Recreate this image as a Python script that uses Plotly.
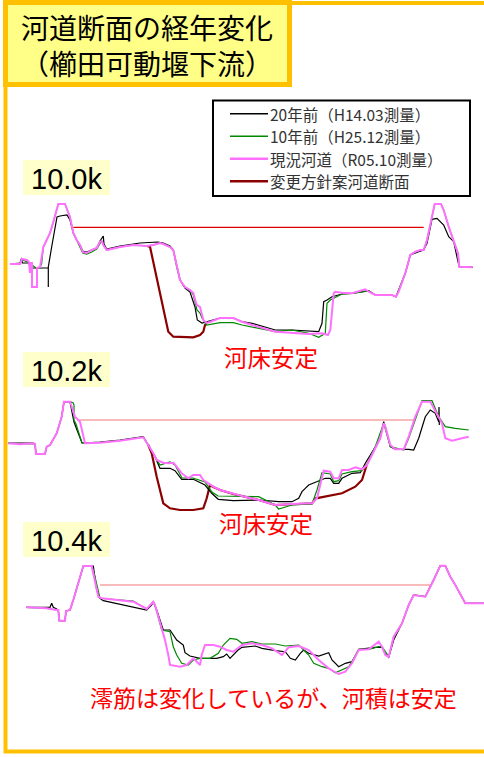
import plotly.graph_objects as go

# ---------------- data (distance, level) ----------------
# Section 10.0k
S100_OLD20 = [(10,264),(20,263),(21.7,258),(22.3,263),(29,263),(30,268),(48.3,268),(48.3,287),(48.3,267),(52,245),(55,228),(57,217),(60,216),(67,215),(70,220),(72,228),(73.3,233),(76.7,240),(80,245),(82.7,251),(86.7,252),(91.7,250),(96.7,248),(100,241),(103.3,236),(104,244),(106.7,249),(120,246),(140,243),(158,242),(163.3,243),(170,246),(173.3,250),(176.7,265),(180,280),(185,288),(190,292),(195,307),(197.3,320),(202,323),(210,321),(220,318),(233.3,318),(242,321.7),(252,323.3),(275.3,330),(292,330),(313.7,331.7),(318.7,331.7),(322,323.3),(323.7,301.7),(327,300),(332,296.7),(342,294),(352,293.3),(368.7,290.7),(375.3,295),(392,295),(396,296.7),(405.3,273.3),(410.3,255),(418.7,251.7),(423.7,250),(427,243.3),(432,219.3),(437,218.3),(443.7,225),(448.7,236.7),(453.7,241.7),(458,261.7),(459.3,266.7),(472.7,267.3)]
S100_OLD10 = [(10,264),(20,264),(22,260),(28,262),(36,268),(40,268),(41.7,263),(43.3,247),(46.7,240),(50,233),(53.3,222),(56.7,210),(58.3,204),(65,204),(66.7,208),(70,217),(73.3,233),(76.7,240),(80,246),(82.7,253),(86.7,254),(91.7,252),(96.7,249),(100,243),(101.7,241),(103.3,245),(106.7,250),(120,247),(133.3,245),(146.7,246),(153.3,245),(160,243),(163.3,244),(170,247),(173.3,250),(176.7,267),(180,280),(185,287),(190,290),(193.3,295),(197,310),(200,313),(202,318),(206.7,325),(220,322.7),(233.3,322.7),(242,325),(275.3,331.7),(292,330),(308.7,333.3),(318.7,337.3),(325.3,333.3),(327,303.3),(330.3,300),(342,294),(352,293.3),(368.7,291),(375.3,295),(392,295),(396,296.7),(405.3,273.3),(410.3,255),(415.3,251.7),(420.3,250),(423.7,250),(427,240),(432,216.7),(434.7,204),(441,204),(443.7,210),(448.7,226.7),(453.7,240),(458,253.3),(459.3,266.7),(472.7,267.3)]
S100_NOW = [(10,264),(20,264),(22,259),(27,260),(29,262),(30,273),(31,263),(32,263),(32,287),(37,287),(37,268),(40,267),(41.7,257),(43.3,247),(46.7,240),(50,233),(53.3,222),(56.7,210),(58.3,204),(65,204),(66.7,208),(70,217),(73.3,233),(76.7,240),(80,245),(82.7,252),(86.7,253),(91.7,250),(96.7,248),(100,242),(101.7,241),(103.3,245),(106.7,250),(120,247),(133.3,245),(146.7,246),(153.3,245),(160,243),(163.3,244),(170,247),(173.3,250),(176.7,267),(180,280),(185,287),(190,290),(193.3,293),(196.7,305),(200,307),(201.7,313),(203.3,320),(206.7,323),(210,322),(220,318),(233.3,318),(242,321.7),(252,325),(275.3,331.7),(292,332.7),(308.7,334),(322,333.3),(328,335),(330.3,330),(333.7,293.3),(335.3,291.7),(342,292.7),(352,293.3),(357,291.7),(365.3,289.3),(368.7,291.7),(375.3,295),(392,295),(396,296.7),(398.7,291.7),(405.3,273.3),(410.3,255),(415.3,251.7),(420.3,250),(423.7,250),(427,240),(432,216.7),(434.7,204),(441,204),(443.7,210),(448.7,226.7),(453.7,240),(458,253.3),(459.3,266.7),(472.7,267.3)]
S100_PLAN = [(146.7,246),(150,246.7),(168.3,331.7),(173.3,336.7),(193.3,337.3),(200,335),(203.3,331.7),(205,325),(206.7,323)]
S100_HWL = [(73.3,227.3),(423.7,227.3)]

# Section 10.2k
S102_OLD20 = [(8.3,443),(33.3,443),(35,444),(36,454),(45,454),(46.7,446.7),(50,445),(56.7,433.3),(61.7,416.7),(64,402),(70,402),(74,422),(77,430),(82,443),(100,442),(120,440),(143.3,436.7),(148.3,445),(155,456.7),(160,468.3),(170,468.3),(175,470.7),(181.7,479.3),(193.3,479.3),(205,485),(211.7,493.3),(218.3,499.3),(233.3,500.7),(242,500.7),(258.7,500),(278.7,501.7),(292,501.7),(298.7,498.3),(302,491.7),(305.3,488.3),(308.7,485),(325.3,478.3),(330.3,478.3),(333.7,483.3),(338.7,483.3),(342,478.3),(352,473.3),(360.3,472.7),(365.3,463.3),(375.3,446.7),(380.3,438.3),(383.7,421.7),(385.3,426.7),(390.3,446.7),(395.3,449.3),(408.7,449.3),(413.7,450),(418.7,438.3),(425.3,416.7),(430.3,410),(435.3,413.3),(438.7,421.7),(439,407),(439.3,425)]
S102_OLD10 = [(8.3,443.3),(33.3,443.3),(35,444),(36,454),(45,454),(46.7,446.7),(50,445),(56.7,433.3),(61.7,416.7),(64,401.7),(70,401.7),(73.3,403),(74,405),(74,420),(76,424),(82,443),(100,442.5),(120,440.5),(143.3,437),(148.3,445),(156,458),(160,465),(170,462),(175,465),(182,478),(193,478),(205,482),(212,492),(218,496),(233,496),(242,496),(258.7,496.7),(275.3,505),(278.7,509),(292,505),(312,504),(317,490),(322,472.7),(330.3,474),(333.7,481.7),(338.7,480.7),(342,474),(352,471.7),(362,470.7),(367,464),(375.3,446.7),(383.7,423.3),(390.3,446.7),(403.7,450),(408.7,438.3),(422,400.7),(432,400.7),(438.7,416.7),(445.3,426.7),(455.3,428.3),(468.7,430)]
S102_NOW = [(8.3,443.3),(20,444.3),(33.3,443.3),(35,444),(36,454),(45,454),(46.7,446.7),(50,445),(56.7,433.3),(61.7,416.7),(64,401.7),(70,401.7),(71.7,406.7),(75,416.7),(80,421.7),(85,443.3),(100,442.7),(120,440.7),(143.3,437.3),(148.3,445),(153.3,453.3),(156.7,460),(163.3,462.7),(168.3,463.3),(173.3,462.7),(176.7,466.7),(181.7,473.3),(188.3,478.3),(193.3,475),(200,475),(203.3,480),(208.3,483.3),(213.3,486.7),(220,490),(233.3,494),(242,496),(258.7,500),(275.3,505),(292,504),(312,503.3),(317,498.3),(323.7,470.7),(330.3,471.7),(333.7,478.3),(338.7,478.3),(342,470),(348.7,470),(355.3,467.3),(362,469.3),(367,465),(375.3,448.3),(380.3,438.3),(383.7,423.3),(385.3,426.7),(390.3,445),(395.3,449.3),(403.7,449.3),(408.7,436.7),(415.3,416.7),(422,401.7),(430.3,401.7),(438.7,418.3),(442,423.3),(445.3,438.3),(452,440.7),(462,438.3),(468.7,436.7)]
S102_PLAN = [(148.3,445),(151.7,453.3),(156.7,476.7),(163.3,503.3),(170,508.3),(180,510),(193.3,510),(203.3,508.3),(206.7,498.3),(210,485),(213.3,487),(220,490),(233.3,494),(242,496),(258.7,500),(275.3,505),(292,504),(312,503.3),(316,498.3),(325.3,496.7),(342,493.3),(355.3,486.7),(362,480),(367,464)]
S102_HWL = [(78.3,420),(415.3,420)]

# Section 10.4k
S104_OLD20 = [(26,607.3),(46.7,607.3),(50,607.3),(51.7,603.3),(53.3,607.3),(56.7,609),(58.3,610),(59.3,620.7),(65,620.7),(66,611),(70,610),(73.3,600),(78.3,583.3),(83.3,566),(93.3,566),(96.7,590),(100,598.3),(103.3,600.7),(146.7,610),(151.7,605),(153.3,601.7),(156.7,610),(163.3,630),(170,630),(176.7,640),(183.3,645),(185,652.7),(190,656),(200,658.3),(216.7,658.3),(223.3,656.7),(226.7,654),(230,658.3),(233.3,655),(238,650),(242,647.3),(255.3,646),(262,648.3),(275.3,650.7),(285.3,651.7),(290.3,658.3),(295.3,660),(300.3,653.3),(303.7,650),(308.7,653.3),(318.7,656),(328.7,652.7),(332,660),(338.7,666.7),(345.3,663.3),(352,661.7),(358.7,649.3),(375.3,647.3),(382,647.3),(385.3,654),(388.7,657.3),(393.7,640),(402,623.3),(408.7,605),(413.7,595),(425.3,596.7),(433.7,580),(440.3,565.7),(445.3,565.7),(450.3,576.7),(455.3,585),(458.7,591.7),(465.3,603.3),(484,603.3)]
S104_OLD10 = [(26,607.3),(46.7,608.3),(56.7,610),(58.3,610),(59.3,620.7),(65,620.7),(66,611),(70,610),(73.3,600),(78.3,583.3),(83.3,566),(91.7,566),(95,576.7),(100,598.3),(133.3,601),(146.7,609),(150,605),(153.3,601.7),(155,605),(161.7,630),(170,631.7),(173.3,646.7),(176.7,655),(181.7,663.3),(188.3,665),(193.3,660),(200,658.3),(210,658.3),(218.3,653.3),(223.3,645),(230,638.3),(236.7,639.3),(242,643.3),(252,641.7),(262,644),(275.3,644),(285.3,646),(298.7,645),(308.7,655),(313.7,663.3),(322,666.7),(328.7,668.3),(335.3,672.7),(342,670),(348.7,666.7),(355.3,656),(358.7,649.3),(368.7,649.3),(378.7,646.7),(382,646.7),(388.7,656.7),(393.7,636.7),(402,623.3),(408.7,605),(413.7,595),(425.3,596.7),(433.7,580),(440.3,565.7),(445.3,565.7),(450.3,576.7),(455.3,585),(458.7,591.7),(465.3,603.3),(484,603.3)]
S104_NOW = [(26,607.3),(46.7,608.3),(56.7,610),(58.3,610),(59.3,620.7),(65,620.7),(66,611),(70,610),(73.3,600),(78.3,583.3),(83.3,566),(91.7,566),(95,580),(98.3,596.7),(101.7,598.3),(133.3,601.7),(146.7,609),(150,605),(153.3,601.7),(155,605),(158.3,616.7),(161.7,630),(165,640),(168.3,655),(170,665),(180,666.7),(186.7,665),(193.3,658.3),(200,665),(201.7,655),(205,645),(213.3,645),(220,646.7),(226.7,650),(233.3,651.7),(242,645),(252,643.3),(262,645),(272,648.3),(282,655),(288.7,647.3),(298.7,646),(308.7,650),(318.7,660),(328.7,668.3),(338.7,674),(345.3,671.7),(352,663.3),(358.7,650),(368.7,649.3),(375.3,644),(378.7,641.7),(382,646.7),(385.3,655),(388.7,656.7),(393.7,636.7),(402,623.3),(408.7,605),(413.7,595),(425.3,596.7),(433.7,580),(440.3,565.7),(445.3,565.7),(450.3,576.7),(455.3,585),(458.7,591.7),(465.3,603.3),(484,603.3)]
S104_HWL = [(100,585),(430.3,585)]

SERIES_NAMES = ["20年前（H14.03測量）", "10年前（H25.12測量）", "現況河道（R05.10測量）", "変更方針案河道断面"]
SECTION_LABELS = ["10.0k", "10.2k", "10.4k"]
NOTES = ["河床安定", "河床安定", "澪筋は変化しているが、河積は安定"]
TITLE_LINES = ["河道断面の経年変化", "（櫛田可動堰下流）"]

# ---------------- styles ----------------
C_OLD20, C_OLD10, C_NOW, C_PLAN = "#000000", "#008800", "#FF70FF", "#8B0000"
SERIES_COLORS = [C_OLD20, C_OLD10, C_NOW, C_PLAN]
SERIES_KEY_WIDTHS = [1.3, 1.3, 2.6, 2.6]
ORANGE = "#FFC000"
JP = "Noto Sans CJK JP"
LEGEND_FONT = 15.5
LEGEND_STEP = 22.5

fig = go.Figure()

def add(pts, color, width, name):
    xs = [p[0] for p in pts]
    ys = [p[1] for p in pts]
    fig.add_trace(go.Scatter(x=xs, y=ys, mode="lines", name=name, showlegend=False,
                             line=dict(color=color, width=width), hoverinfo="skip"))

sections = [
    (S100_OLD20, S100_OLD10, S100_NOW, S100_PLAN, S100_HWL, "#E00000"),
    (S102_OLD20, S102_OLD10, S102_NOW, S102_PLAN, S102_HWL, "#F07878"),
    (S104_OLD20, S104_OLD10, S104_NOW, None, S104_HWL, "#F07878"),
]
for (o20, o10, now, plan, hwl, hcol) in sections:
    add(hwl, hcol, 1.2, "HWL")
    if plan is not None:
        add(plan, C_PLAN, 2.2, SERIES_NAMES[3])
    add(o20, C_OLD20, 1.2, SERIES_NAMES[0])
    add(o10, C_OLD10, 1.2, SERIES_NAMES[1])
    add(now, C_NOW, 2.0, SERIES_NAMES[2])

shapes = [
    # outer frame
    dict(type="rect", xref="x", yref="y", x0=5.5, x1=520, y0=3, y1=751.5,
         line=dict(color=ORANGE, width=4), layer="below"),
    # title box
    dict(type="rect", xref="x", yref="y", x0=5.5, x1=289.5, y0=2.5, y1=84.5,
         fillcolor="#FFFF88", line=dict(color=ORANGE, width=5), layer="above"),
    # legend box
    dict(type="rect", xref="x", yref="y", x0=213, x1=470, y0=100.5, y1=196,
         fillcolor="white", line=dict(color="#000000", width=2), layer="above"),
]
label_boxes = [(160, 195), (352, 387), (522, 557)]
for (y0, y1) in label_boxes:
    shapes.append(dict(type="rect", xref="x", yref="y", x0=23, x1=110, y0=y0, y1=y1,
                       fillcolor="#FFFFCC", line=dict(width=0), layer="below"))

annotations = [
    dict(x=147, y=45, xref="x", yref="y", text="<br>".join(TITLE_LINES), showarrow=False,
         font=dict(family=JP, size=28, color="#000000"), align="center"),
]

# legend: key lines + one text per entry
legend_center = 147.5
legend_rows = [legend_center + (k - 1.5) * LEGEND_STEP for k in range(4)]
for ly, name, col, w in zip(legend_rows, SERIES_NAMES, SERIES_COLORS, SERIES_KEY_WIDTHS):
    shapes.append(dict(type="line", xref="x", yref="y", x0=230, x1=268, y0=ly, y1=ly,
                       line=dict(color=col, width=w), layer="above"))
    annotations.append(dict(x=269, y=ly, xref="x", yref="y", text=name, showarrow=False,
                            xanchor="left", yanchor="middle", borderpad=0,
                            font=dict(family=JP, size=LEGEND_FONT, color="#333333")))

for (y0, y1), lab in zip(label_boxes, SECTION_LABELS):
    annotations.append(dict(x=66.5, y=(y0 + y1) / 2 + 1, xref="x", yref="y", text=lab, showarrow=False,
                            font=dict(family="Liberation Sans, Arial", size=29, color="#000000")))
note_pos = [(271, 357, 23.5), (266, 523, 23.5), (273, 697, 23)]
for (nx, ny, fs), txt in zip(note_pos, NOTES):
    annotations.append(dict(x=nx, y=ny, xref="x", yref="y", text=txt, showarrow=False,
                            font=dict(family=JP, size=fs, color="#FF0000")))

fig.update_layout(
    width=484, height=757,
    margin=dict(l=0, r=0, t=0, b=0),
    paper_bgcolor="white", plot_bgcolor="white",
    xaxis=dict(range=[0, 484], visible=False, fixedrange=True),
    yaxis=dict(range=[757, 0], visible=False, fixedrange=True),
    shapes=shapes,
    annotations=annotations,
    showlegend=False,
)

fig.write_html("out.html", config={"displayModeBar": False},
               post_script="document.body.style.margin='0';document.body.style.padding='0';")
